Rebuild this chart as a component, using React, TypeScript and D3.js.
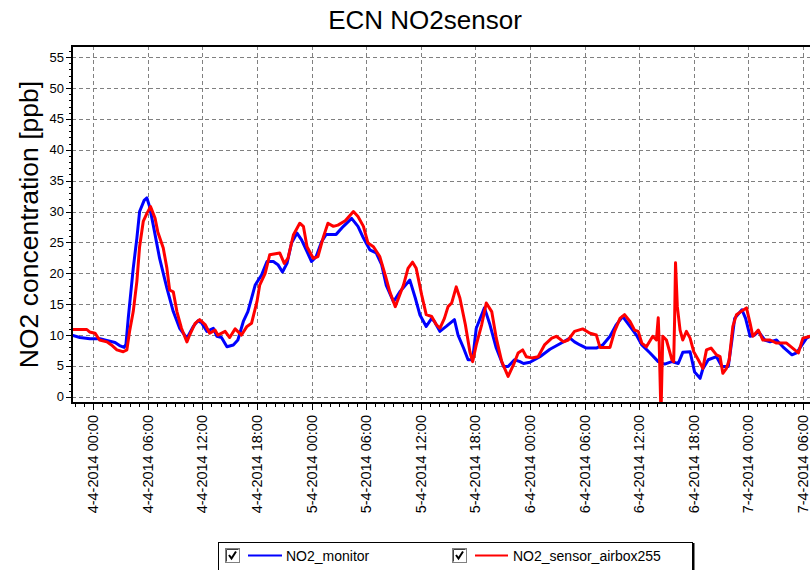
import { useEffect, useRef } from 'react';
import * as d3 from 'd3';

const WIDTH = 810;
const HEIGHT = 570;
const PLOT = { left: 72, right: 812, top: 46, bottom: 403 };
const FONT = "'Liberation Sans', Arial, sans-serif";

const TITLE = 'ECN NO2sensor';
const Y_LABEL = 'NO2 concentration [ppb]';
const SERIES_NAMES = ['NO2_monitor', 'NO2_sensor_airbox255'];
const SERIES_COLORS = ['#0000ff', '#ff0000'];

// time axis: hours after 4-4-2014 00:00
const BASE = new Date(2014, 3, 4, 0, 0);
const X_RANGE_HOURS = [-2.33, 79.0];
const Y_DOMAIN = [-1, 56.8];
const Y_TICKS = [0, 5, 10, 15, 20, 25, 30, 35, 40, 45, 50, 55];
const X_TICK_HOURS = [0, 6, 12, 18, 24, 30, 36, 42, 48, 54, 60, 66, 72, 78];

const monitorHours = [
  -2.34, -1.46, -0.36, 0.74, 1.6, 2.4, 2.9, 3.4, 3.6, 3.85, 4.4, 4.8, 5.1, 5.6, 5.9, 6.2, 6.6, 7.3, 8.1, 8.8,
  9.5, 10.3, 11.0, 11.5, 11.9, 12.5, 13.2, 13.6, 14.1, 14.7, 15.4, 15.9, 16.5, 17.0, 17.8, 18.5, 19.1, 19.8, 20.3, 20.8,
  21.3, 21.8, 22.4, 22.9, 23.5, 24.0, 24.5, 25.1, 25.6, 26.7, 27.5, 28.4, 29.1, 29.7, 30.4, 31.1, 31.7, 32.2, 33.0, 33.7,
  34.8, 35.4, 35.9, 36.6, 37.2, 37.5, 38.1, 38.8, 39.7, 40.1, 40.7, 41.2, 41.7, 42.1, 43.0, 43.6, 44.3, 45.1, 45.6, 46.3,
  46.9, 47.3, 48.0, 49.1, 50.2, 51.3, 52.4, 52.9, 53.5, 54.2, 55.3, 56.0, 56.8, 57.5, 58.2, 59.0, 59.7, 60.3, 61.2, 62.1,
  62.8, 63.6, 64.3, 64.8, 65.6, 66.1, 66.7, 67.0, 67.6, 68.5, 69.1, 69.8, 70.2, 70.5, 71.3, 71.7, 72.2, 72.7, 73.1, 73.8,
  74.4, 75.1, 75.8, 76.8, 77.3, 77.9, 78.4, 78.8,
];
const monitorValues = [
  10.0, 9.6, 9.4, 9.4, 9.1, 8.8, 8.3, 8.0, 8.5, 12.7, 20.8, 25.7, 30.0, 31.8, 32.2, 30.8, 27.8, 22.4, 17.6, 13.8,
  11.1, 9.5, 11.4, 12.3, 12.0, 10.6, 11.1, 9.8, 9.6, 8.1, 8.4, 9.2, 12.2, 13.8, 18.1, 19.7, 21.9, 21.9, 21.4, 20.2,
  21.6, 24.9, 26.5, 25.4, 23.5, 21.9, 22.7, 25.1, 26.3, 26.3, 27.6, 28.9, 27.6, 25.7, 23.8, 23.3, 21.4, 18.1, 15.4, 17.0,
  18.9, 16.0, 13.3, 11.4, 12.7, 12.2, 10.6, 11.4, 12.5, 10.0, 7.9, 6.0, 6.0, 11.1, 14.4, 11.7, 7.9, 4.9, 4.9, 6.0,
  5.7, 5.4, 5.6, 6.5, 7.7, 8.6, 9.5, 8.9, 8.4, 7.9, 7.9, 8.4, 9.8, 11.7, 13.0, 11.4, 10.0, 8.4, 7.1, 5.7,
  5.3, 5.7, 5.4, 7.2, 7.3, 4.0, 3.0, 4.5, 6.0, 6.5, 4.9, 4.9, 9.2, 12.7, 14.1, 12.7, 9.8, 10.0, 10.6, 9.2,
  8.9, 9.2, 8.1, 6.8, 7.1, 8.4, 9.5, 9.8,
];

const sensorHours = [
  -2.34, -0.7, -0.4, 0.2, 0.7, 1.5, 2.0, 2.6, 3.3, 3.7, 4.0, 4.4, 4.8, 5.1, 5.5, 5.9, 6.3, 6.8, 7.1, 7.7,
  8.1, 8.4, 8.8, 9.2, 9.7, 10.3, 10.6, 11.2, 11.7, 12.3, 12.8, 13.4, 13.7, 14.5, 15.0, 15.6, 16.3, 16.9, 17.4, 18.0,
  18.3, 18.9, 19.4, 20.5, 21.0, 21.4, 22.0, 22.7, 23.1, 23.5, 24.2, 24.7, 25.3, 25.8, 26.4, 26.9, 27.7, 28.6, 29.1, 29.7,
  30.2, 30.8, 31.5, 32.1, 32.6, 33.2, 34.1, 34.6, 35.1, 35.5, 36.1, 36.6, 37.2, 37.7, 38.1, 38.6, 39.0, 39.4, 39.9, 40.3,
  40.9, 41.4, 41.7, 42.1, 42.7, 43.2, 43.8, 44.3, 44.9, 45.6, 46.2, 46.7, 47.2, 47.6, 48.2, 48.9, 49.6, 50.4, 50.9, 51.7,
  52.2, 52.9, 53.8, 54.6, 55.3, 55.7, 56.8, 57.3, 57.9, 58.4, 59.0, 59.5, 59.9, 60.3, 60.8, 61.5, 61.9, 62.1, 62.2, 62.4,
  62.6, 63.0, 63.6, 63.8, 63.9, 64.0, 64.2, 64.5, 64.8, 65.2, 65.6, 66.0, 66.5, 67.0, 67.4, 67.9, 68.5, 68.9, 69.2, 69.6,
  69.9, 70.3, 70.7, 71.2, 71.8, 72.2, 72.5, 73.1, 73.6, 74.4, 75.1, 76.2, 77.1, 77.5, 78.0, 78.8,
];
const sensorValues = [
  10.9, 10.9, 10.5, 10.3, 9.2, 8.9, 8.4, 7.6, 7.3, 7.6, 10.6, 13.8, 18.7, 24.3, 28.4, 29.7, 30.8, 28.9, 26.7, 24.1,
  20.8, 17.3, 17.0, 13.8, 11.1, 8.9, 10.0, 11.9, 12.5, 11.7, 10.3, 10.8, 10.0, 10.6, 9.6, 11.0, 10.0, 11.4, 11.9, 15.4,
  18.1, 20.0, 23.0, 23.3, 21.6, 22.4, 26.2, 28.1, 27.6, 24.3, 22.4, 22.7, 25.9, 28.1, 27.6, 27.8, 28.5, 30.0, 29.2, 27.6,
  24.9, 24.3, 22.7, 19.7, 17.0, 14.6, 18.1, 20.8, 21.8, 20.8, 16.5, 13.3, 13.0, 11.7, 11.1, 12.7, 14.6, 15.2, 17.8, 16.0,
  11.7, 7.3, 5.7, 8.4, 11.7, 15.2, 13.8, 9.5, 5.7, 3.3, 5.2, 7.1, 7.6, 6.5, 6.3, 6.5, 8.4, 9.5, 9.8, 8.9,
  9.2, 10.6, 11.0, 10.3, 10.0, 8.0, 8.0, 10.6, 12.7, 13.3, 12.2, 10.8, 10.6, 8.7, 8.1, 9.8, 9.2, 12.8, 9.0, -3.0,
  9.8, 9.2, 6.0, 5.7, 12.5, 21.7, 14.6, 10.8, 9.2, 10.6, 9.5, 7.3, 6.0, 4.6, 7.6, 7.9, 6.8, 6.5, 3.8, 4.6,
  6.0, 11.4, 13.3, 13.8, 14.4, 11.9, 9.8, 10.8, 9.2, 9.2, 8.7, 8.7, 7.6, 7.1, 9.5, 9.8,
];

const toDate = (h: number) => new Date(BASE.getTime() + h * 3600 * 1000);

export default function App() {
  const svgRef = useRef<SVGSVGElement | null>(null);

  useEffect(() => {
    const svg = d3.select(svgRef.current);
    svg.selectAll('*').remove();

    const x = d3.scaleTime()
      .domain([toDate(X_RANGE_HOURS[0]), toDate(X_RANGE_HOURS[1])])
      .range([PLOT.left, PLOT.right]);
    const y = d3.scaleLinear().domain(Y_DOMAIN).range([PLOT.bottom, PLOT.top]);

    svg.append('rect').attr('width', WIDTH).attr('height', HEIGHT).attr('fill', '#fff');

    // title
    svg.append('text')
      .attr('x', 425).attr('y', 29)
      .attr('text-anchor', 'middle')
      .style('font-family', FONT).style('font-size', '26px')
      .text(TITLE);

    // y axis title
    svg.append('text')
      .attr('transform', `translate(38,${(PLOT.top + PLOT.bottom) / 2}) rotate(-90)`)
      .attr('text-anchor', 'middle')
      .style('font-family', FONT).style('font-size', '26.5px')
      .text(Y_LABEL);

    // grid
    const grid = svg.append('g').attr('stroke', '#808080').attr('stroke-width', 1).attr('stroke-dasharray', '4,3');
    Y_TICKS.forEach((t) => {
      grid.append('line')
        .attr('x1', PLOT.left).attr('x2', PLOT.right)
        .attr('y1', Math.round(y(t)) + 0.5).attr('y2', Math.round(y(t)) + 0.5);
    });
    X_TICK_HOURS.forEach((h) => {
      const px = Math.round(x(toDate(h))) + 0.5;
      grid.append('line').attr('x1', px).attr('x2', px).attr('y1', PLOT.top).attr('y2', PLOT.bottom);
    });

    // series
    const clipId = 'plot-clip';
    svg.append('clipPath').attr('id', clipId)
      .append('rect')
      .attr('x', PLOT.left).attr('y', PLOT.top)
      .attr('width', PLOT.right - PLOT.left).attr('height', PLOT.bottom - PLOT.top);

    const line = d3.line<[number, number]>()
      .x((d) => x(toDate(d[0])))
      .y((d) => y(d[1]));

    const series = [
      monitorHours.map((h, i) => [h, monitorValues[i]] as [number, number]),
      sensorHours.map((h, i) => [h, sensorValues[i]] as [number, number]),
    ];
    const lines = svg.append('g').attr('clip-path', `url(#${clipId})`);
    series.forEach((s, i) => {
      lines.append('path')
        .datum(s)
        .attr('d', line)
        .attr('fill', 'none')
        .attr('stroke', SERIES_COLORS[i])
        .attr('stroke-width', 3)
        .attr('stroke-linejoin', 'round');
    });

    // frame
    const frame = svg.append('g').attr('stroke', '#000').attr('stroke-width', 2);
    frame.append('line').attr('x1', PLOT.left).attr('x2', PLOT.left).attr('y1', PLOT.top).attr('y2', PLOT.bottom + 1);
    frame.append('line').attr('x1', PLOT.left - 1).attr('x2', PLOT.right).attr('y1', PLOT.bottom).attr('y2', PLOT.bottom);
    frame.append('line').attr('x1', PLOT.left - 1).attr('x2', PLOT.right).attr('y1', PLOT.top).attr('y2', PLOT.top);

    // y ticks
    const yAxis = svg.append('g').attr('stroke', '#000').attr('stroke-width', 1);
    d3.range(0, 57, 1).forEach((v) => {
      const py = Math.round(y(v)) + 0.5;
      const major = v % 5 === 0;
      yAxis.append('line').attr('x1', PLOT.left - (major ? 6 : 3)).attr('x2', PLOT.left).attr('y1', py).attr('y2', py);
    });
    Y_TICKS.forEach((t) => {
      svg.append('text')
        .attr('x', PLOT.left - 8).attr('y', y(t) + 4.5)
        .attr('text-anchor', 'end')
        .style('font-family', FONT).style('font-size', '13px')
        .text(t);
    });

    // x ticks
    const xAxis = svg.append('g').attr('stroke', '#000').attr('stroke-width', 1);
    d3.range(-2, 80, 1).forEach((h) => {
      const px = Math.round(x(toDate(h))) + 0.5;
      const major = h % 6 === 0;
      xAxis.append('line').attr('x1', px).attr('x2', px).attr('y1', PLOT.bottom).attr('y2', PLOT.bottom + (major ? 7 : 4));
    });
    const fmt = d3.timeFormat('%-d-%-m-%Y %H:%M');
    X_TICK_HOURS.forEach((h) => {
      const px = x(toDate(h));
      svg.append('text')
        .attr('transform', `translate(${px + 5},${PLOT.bottom + 12}) rotate(-90)`)
        .attr('text-anchor', 'end')
        .style('font-family', FONT).style('font-size', '14.5px')
        .text(fmt(toDate(h)));
    });

    // legend
    const lg = svg.append('g');
    lg.append('rect').attr('x', 218.5).attr('y', 542.5).attr('width', 474).attr('height', 40)
      .attr('fill', '#fff').attr('stroke', '#000').attr('stroke-width', 1);
    lg.append('line').attr('x1', 693.5).attr('x2', 693.5).attr('y1', 543).attr('y2', 580)
      .attr('stroke', '#000').attr('stroke-width', 2);
    const items = [
      { box: 225, line: [248, 282], text: 286 },
      { box: 452, line: [475, 508], text: 513 },
    ];
    items.forEach((it, i) => {
      lg.append('rect').attr('x', it.box + 0.5).attr('y', 548.5).attr('width', 14).attr('height', 14)
        .attr('fill', '#fff').attr('stroke', '#808080');
      lg.append('path')
        .attr('d', `M${it.box + 1.5},${549.5}H${it.box + 13.5}M${it.box + 1.5},${549.5}V${561.5}`)
        .attr('stroke', '#404040').attr('fill', 'none');
      lg.append('path')
        .attr('d', `M${it.box + 4},${555} L${it.box + 6.5},${558.5} L${it.box + 11},${551.5}`)
        .attr('stroke', '#000').attr('stroke-width', 2).attr('fill', 'none');
      lg.append('line').attr('x1', it.line[0]).attr('x2', it.line[1]).attr('y1', 555.5).attr('y2', 555.5)
        .attr('stroke', SERIES_COLORS[i]).attr('stroke-width', 2);
      lg.append('text').attr('x', it.text).attr('y', 560.5)
        .style('font-family', FONT).style('font-size', '14px')
        .text(SERIES_NAMES[i]);
    });
  }, []);

  return (
    <svg
      ref={svgRef}
      width={WIDTH}
      height={HEIGHT}
      style={{ position: 'absolute', left: 0, top: 0, display: 'block' }}
    />
  );
}
